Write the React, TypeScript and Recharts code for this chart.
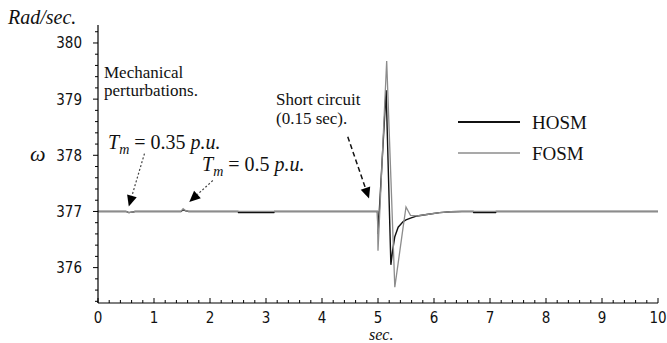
import React from 'react';
import { LineChart, Line, XAxis, YAxis, ReferenceLine, Legend } from 'recharts';

// time (sec.) and rotor speed (rad/sec.)
const time = [0, 0.5, 0.55, 0.62, 0.66, 1.48, 1.52, 1.57, 1.62, 2.5, 2.51, 3.14, 3.15, 4.99, 5.0, 5.145, 5.155, 5.23, 5.26, 5.3, 5.36, 5.45, 5.5, 5.58, 5.7, 5.9, 6.1, 6.3, 6.5, 6.7, 6.71, 7.1, 7.11, 10];
const hosm = [377, 377, 376.98, 376.99, 377, 377, 377.03, 377.01, 377, 377, 376.98, 376.98, 377, 377, 376.6, 379.16, 378.8, 376.05, 376.3, 376.55, 376.72, 376.82, 376.85, 376.88, 376.92, 376.95, 376.98, 376.995, 377, 377, 376.98, 376.98, 377, 377];
const fosm = [377, 377, 376.98, 376.99, 377, 377, 377.05, 377.01, 377, 377, 377, 377, 377, 377, 376.3, 379.46, 379.68, 377.6, 376.76, 375.65, 376.08, 376.73, 377.08, 376.93, 376.92, 376.95, 376.98, 376.995, 377, 377, 377, 377, 377, 377];

const xMajor = [0, 1, 2, 3, 4, 5, 6, 7, 8, 9, 10];
const yMajor = [376, 377, 378, 379, 380];
const minorSteps = [0, 0.2, 0.4, 0.6, 0.8];

const xTicks = xMajor.flatMap((v) => (v < 10 ? minorSteps.map((s) => +(v + s).toFixed(1)) : [v]));
const yTicks = [375.4, 375.6, 375.8, ...yMajor.flatMap((v) => (v < 380 ? minorSteps.map((s) => +(v + s).toFixed(1)) : [v, 380.2]))];

const data = time.map((t, i) => ({ t, hosm: hosm[i], fosm: fosm[i] }));

const serif = "'Liberation Serif', 'Times New Roman', 'DejaVu Serif', 'Noto Serif', Times, serif";
const narrow = "'Liberation Sans Narrow', 'DejaVu Sans Condensed', 'DejaVu Sans', sans-serif";

const serifStyle = { fontFamily: serif };
const narrowStyle = { fontFamily: narrow, fontStretch: 'condensed' as const };

const isMajor = (v: number) => Math.abs(v - Math.round(v)) < 1e-6;

const XTick = (props: any) => {
  const { x, y, payload } = props;
  const major = isMajor(payload.value);
  return (
    <g>
      <line x1={x} x2={x} y1={y} y2={y - (major ? 5 : 3)} stroke="#000" strokeWidth={1} />
      {major && (
        <text x={x} y={y + 19.5} textAnchor="middle" style={narrowStyle} fontSize={15} fill="#111">
          {Math.round(payload.value)}
        </text>
      )}
    </g>
  );
};

const YTick = (props: any) => {
  const { x, y, payload } = props;
  const major = isMajor(payload.value);
  return (
    <g>
      <line x1={x} x2={x - (major ? 5 : 3)} y1={y} y2={y} stroke="#000" strokeWidth={1} />
      {major && (
        <text x={x - 16} y={y + 5.5} textAnchor="end" style={narrowStyle} fontSize={15} fill="#111">
          {Math.round(payload.value)}
        </text>
      )}
    </g>
  );
};

const arrow = (dash: string, width: number, color: string) => (p: any) => {
  const { x1, y1, x2, y2 } = p;
  const dx = x2 - x1;
  const dy = y2 - y1;
  const len = Math.hypot(dx, dy) || 1;
  const ux = dx / len;
  const uy = dy / len;
  const head = 11;
  const half = 5;
  const bx = x2 - ux * head;
  const by = y2 - uy * head;
  return (
    <g>
      <line x1={x1} y1={y1} x2={bx} y2={by} stroke={color} strokeWidth={width} strokeDasharray={dash} />
      <polygon
        points={`${x2},${y2} ${bx - uy * half},${by + ux * half} ${bx + uy * half},${by - ux * half}`}
        fill="#000"
      />
    </g>
  );
};

const renderLegend = () => (
  <svg width={190} height={60}>
    <line x1={3} x2={65} y1={10} y2={10} stroke="#111" strokeWidth={2} />
    <text x={77} y={17} style={serifStyle} fontSize={19} fill="#111">HOSM</text>
    <line x1={3} x2={65} y1={41} y2={41} stroke="#8c8c8c" strokeWidth={1.5} />
    <text x={77} y={48} style={serifStyle} fontSize={19} fill="#111">FOSM</text>
  </svg>
);

const Tm = ({ x, y, value }: { x: number; y: number; value: string }) => (
  <text x={x} y={y} style={serifStyle} fontSize={20} fill="#111">
    <tspan fontStyle="italic">T</tspan>
    <tspan fontStyle="italic" fontSize={14} dy={5}>m</tspan>
    <tspan dy={-5}>{` = ${value} `}</tspan>
    <tspan fontStyle="italic">p.u.</tspan>
  </text>
);

export default function App() {
  return (
    <div style={{ position: 'absolute', left: 0, top: 0, width: 667, height: 343, background: '#fff' }}>
      <LineChart
        width={667}
        height={343}
        data={data}
        margin={{ top: 25, right: 9, bottom: 10, left: 38 }}
      >
        <XAxis
          type="number"
          dataKey="t"
          domain={[0, 10]}
          ticks={xTicks}
          interval={0}
          height={30}
          tickSize={0}
          tickMargin={0}
          tickLine={false}
          tick={XTick}
          axisLine={{ stroke: '#000', strokeWidth: 1.2 }}
          allowDataOverflow
        />
        <YAxis
          type="number"
          domain={[375.37, 380.32]}
          ticks={yTicks}
          interval={0}
          width={60}
          tickSize={0}
          tickMargin={0}
          tickLine={false}
          tick={YTick}
          axisLine={{ stroke: '#000', strokeWidth: 1.2 }}
          allowDataOverflow
        />
        <Legend
          layout="horizontal"
          align="center"
          verticalAlign="middle"
          content={renderLegend}
          wrapperStyle={{ position: 'absolute', left: 455, top: 112, width: 190, height: 60 }}
        />
        <Line type="linear" dataKey="hosm" name="HOSM" stroke="#111" strokeWidth={1.4} dot={false} isAnimationActive={false} />
        <Line type="linear" dataKey="fosm" name="FOSM" stroke="#8c8c8c" strokeWidth={1.3} dot={false} isAnimationActive={false} />
        <ReferenceLine
          segment={[{ x: 0.83, y: 378.03 }, { x: 0.55, y: 377.09 }]}
          shape={arrow('2 2', 1.2, '#444')}
        />
        <ReferenceLine
          segment={[{ x: 2.05, y: 377.55 }, { x: 1.63, y: 377.17 }]}
          shape={arrow('2 2', 1.2, '#444')}
        />
        <ReferenceLine
          segment={[{ x: 4.46, y: 378.33 }, { x: 4.84, y: 377.23 }]}
          shape={arrow('5 3', 1.5, '#111')}
        />
      </LineChart>
      <svg
        width={667}
        height={343}
        style={{ position: 'absolute', left: 0, top: 0, pointerEvents: 'none' }}
      >
        <text x={8} y={24} style={serifStyle} fontStyle="italic" fontSize={20} fill="#111">Rad/sec.</text>
        <text x={30} y={161} style={serifStyle} fontStyle="italic" fontSize={22} fill="#111">ω</text>
        <text x={369} y={340} style={serifStyle} fontStyle="italic" fontSize={16} fill="#111">sec.</text>
        <text x={104} y={78} style={serifStyle} fontSize={17} fill="#111">Mechanical</text>
        <text x={104} y={96} style={serifStyle} fontSize={17} fill="#111">perturbations.</text>
        <text x={276} y={105} style={serifStyle} fontSize={17} fill="#111">Short circuit</text>
        <text x={276} y={124} style={serifStyle} fontSize={17} fill="#111">(0.15 sec).</text>
        <Tm x={108} y={149} value="0.35" />
        <Tm x={202} y={171} value="0.5" />
      </svg>
    </div>
  );
}
